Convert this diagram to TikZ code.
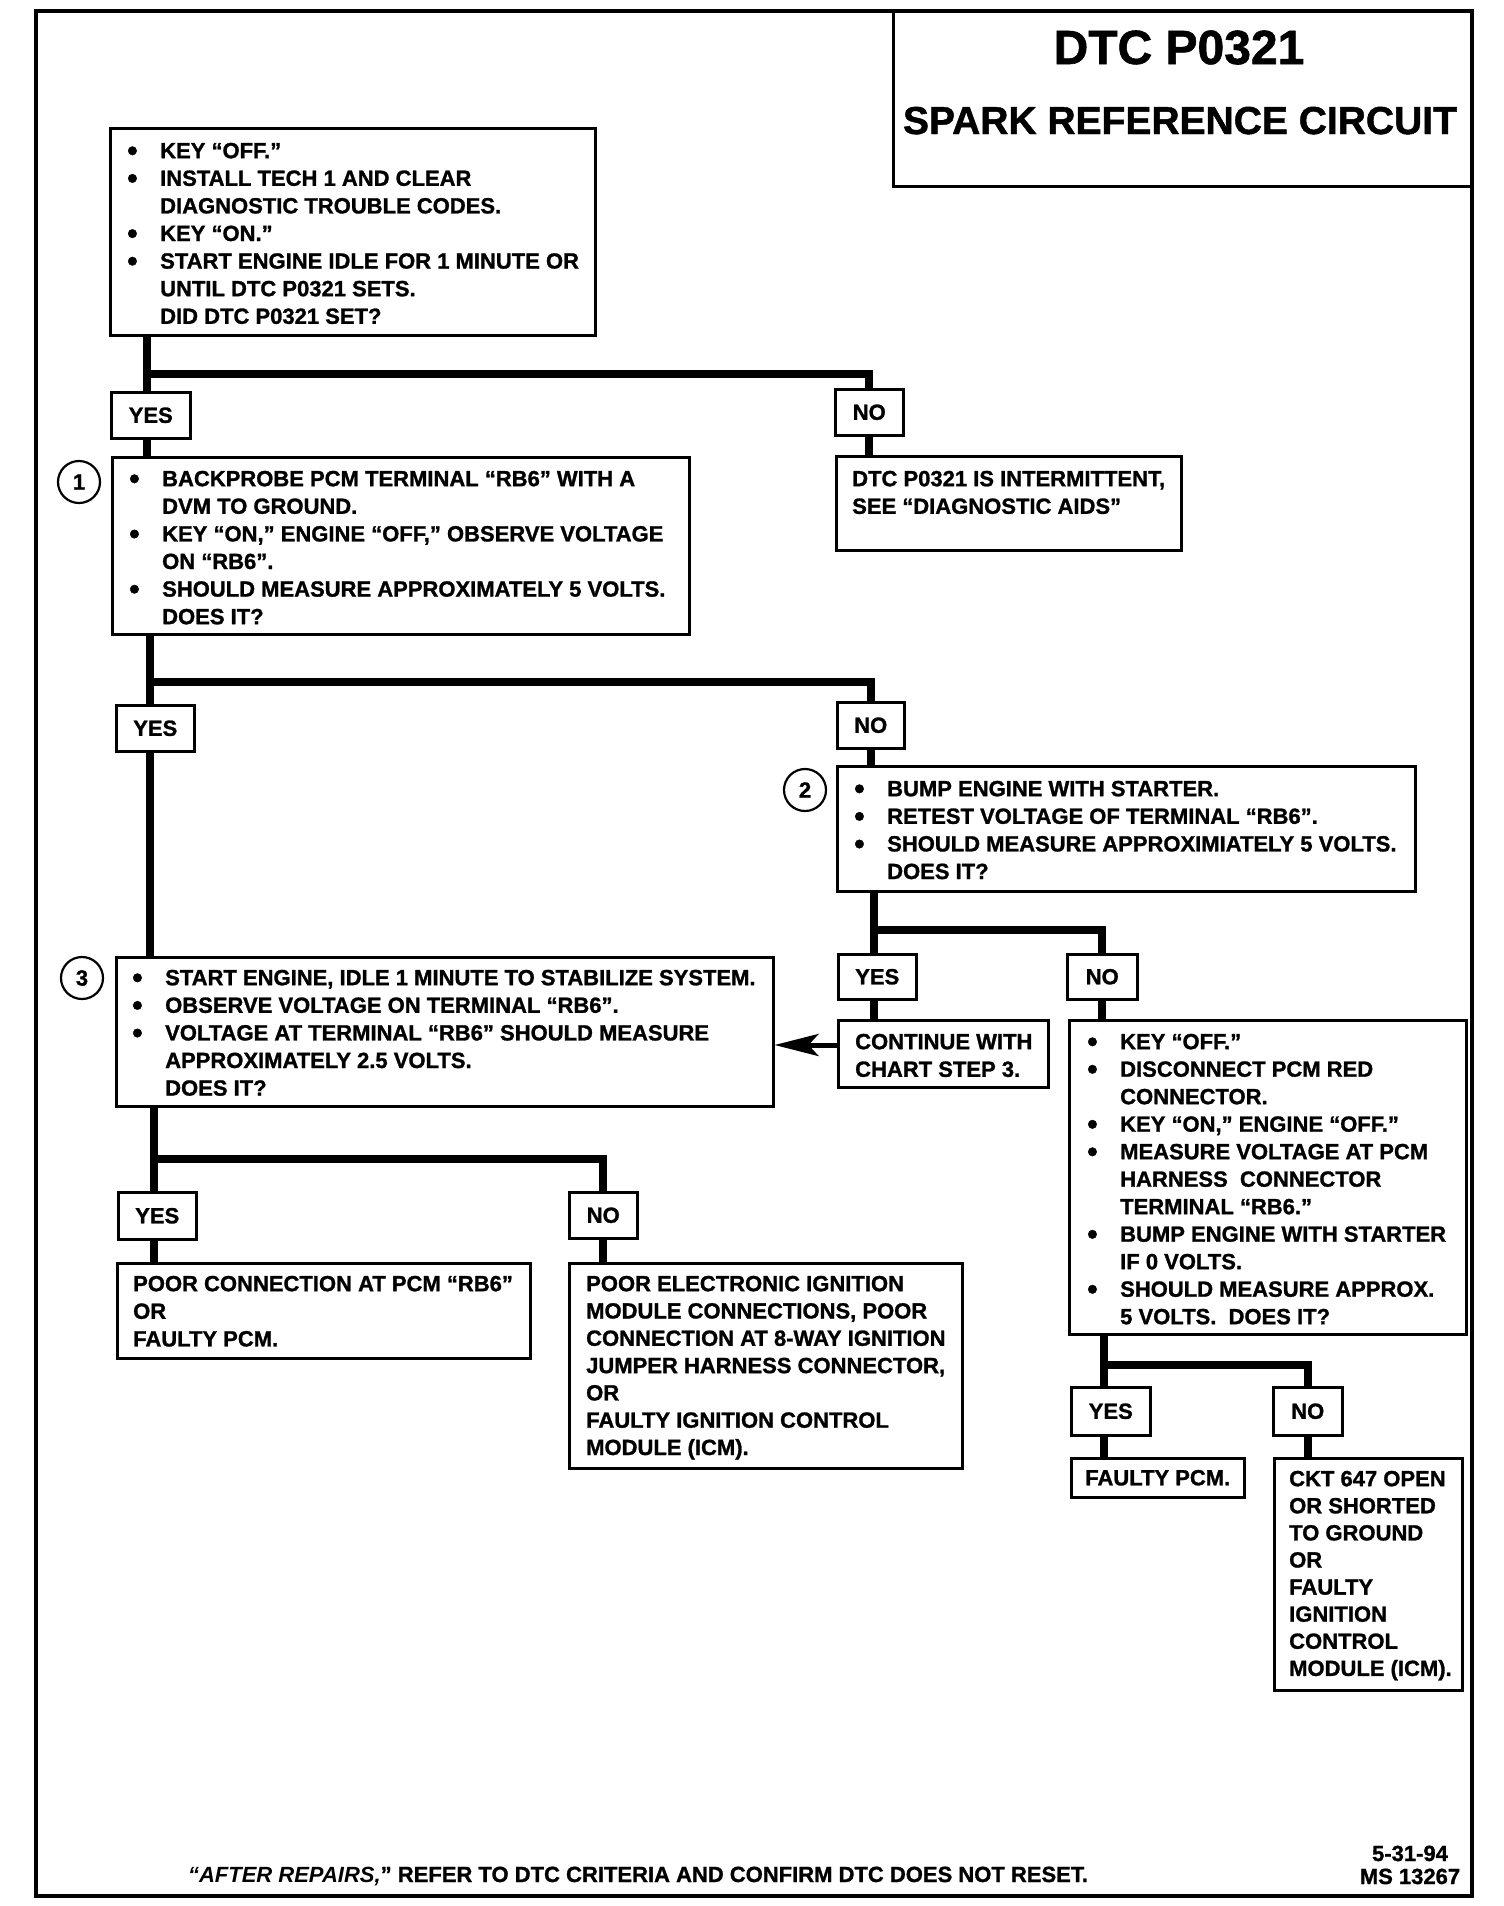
\documentclass[tikz,border=0pt]{standalone}
\usepackage{fontspec}
\setmainfont{Liberation Sans}[BoldFeatures={FakeBold=1.2}]
\usetikzlibrary{arrows.meta,calc}
\newcommand\bul{\makebox[33pt][l]{\raisebox{-2.5pt}{\fontsize{30}{30}\selectfont\textbullet}}}
\newcommand\ind{\hspace*{33pt}}
\newcommand\st{\rule{0pt}{17pt}}
\newcommand\bx[5]{\node[box,minimum width={#4-#2},minimum height={#5-#3}] (#1) at (#2,#3) {};}
\newcommand\lb[6]{\node[lbl,minimum width={#4-#2},minimum height={#5-#3}] (#1) at (#2,#3) {#6};}
\begin{document}
\begin{tikzpicture}[x=1pt,y=-1pt,
  box/.style={draw,line width=2.5pt,inner sep=0pt,anchor=north west},
  lbl/.style={draw,line width=2.5pt,inner sep=0pt,anchor=north west,font=\fontsize{22}{27}\selectfont\bfseries},
  txt/.style={inner sep=0pt,anchor=north west,align=left,font=\fontsize{22}{27.6}\selectfont\bfseries},
  conn/.style={line width=8pt,line join=miter,line cap=butt},
  num/.style={draw,circle,line width=2.2pt,minimum size=42pt,inner sep=0pt,font=\fontsize{22}{22}\selectfont\bfseries},
  small/.style={inner sep=0pt,anchor=base,font=\fontsize{22}{22}\selectfont\bfseries}
]
\useasboundingbox (0,0) rectangle (1504,1906);
\fill[white] (0,0) rectangle (1504,1906);

% frame and title
\node[draw,line width=3.5pt,inner sep=0pt,anchor=north west,minimum width=1436,minimum height=1885] (frame) at (34,9) {};
\bx{title}{892}{9}{1470}{185}
\node[small,font=\fontsize{48}{48}\selectfont\bfseries] (t1) at (1179,64) {DTC P0321};
\node[small,font=\fontsize{39}{39}\selectfont\bfseries] (t2) at (1180,134) {SPARK REFERENCE CIRCUIT};

% boxes
\bx{b1}{109}{127}{594}{334}
\node[txt] (b1t) at (127,141) {\st\bul KEY “OFF.”\\ \bul INSTALL TECH 1 AND CLEAR\\ \ind DIAGNOSTIC TROUBLE CODES.\\ \bul KEY “ON.”\\ \bul START ENGINE IDLE FOR 1 MINUTE OR\\ \ind UNTIL DTC P0321 SETS.\\ \ind DID DTC P0321 SET?};

\bx{b2}{111}{456}{688}{633}
\node[txt] (b2t) at (129,469) {\st\bul BACKPROBE PCM TERMINAL “RB6” WITH A\\ \ind DVM TO GROUND.\\ \bul KEY “ON,” ENGINE “OFF,” OBSERVE VOLTAGE\\ \ind ON “RB6”.\\ \bul SHOULD MEASURE APPROXIMATELY 5 VOLTS.\\ \ind DOES IT?};

\bx{b3}{835}{455}{1180}{549}
\node[txt] (b3t) at (852,469) {\st DTC P0321 IS INTERMITTENT,\\ SEE “DIAGNOSTIC AIDS”};

\bx{b4}{836}{765}{1414}{890}
\node[txt] (b4t) at (854,779) {\st\bul BUMP ENGINE WITH STARTER.\\ \bul RETEST VOLTAGE OF TERMINAL “RB6”.\\ \bul SHOULD MEASURE APPROXIMIATELY 5 VOLTS.\\ \ind DOES IT?};

\bx{b5}{115}{956}{772}{1105}
\node[txt] (b5t) at (132,968) {\st\bul START ENGINE, IDLE 1 MINUTE TO STABILIZE SYSTEM.\\ \bul OBSERVE VOLTAGE ON TERMINAL “RB6”.\\ \bul VOLTAGE AT TERMINAL “RB6” SHOULD MEASURE\\ \ind APPROXIMATELY 2.5 VOLTS.\\ \ind DOES IT?};

\bx{b6}{837}{1019}{1047}{1086}
\node[txt] (b6t) at (855,1032) {\st CONTINUE WITH\\ CHART STEP 3.};

\bx{b7}{1068}{1019}{1465}{1333}
\node[txt,font=\fontsize{22}{27.5}\selectfont\bfseries] (b7t) at (1087,1032) {\st\bul KEY “OFF.”\\ \bul DISCONNECT PCM RED\\ \ind CONNECTOR.\\ \bul KEY “ON,” ENGINE “OFF.”\\ \bul MEASURE VOLTAGE AT PCM\\ \ind HARNESS\ \ CONNECTOR\\ \ind TERMINAL “RB6.”\\ \bul BUMP ENGINE WITH STARTER\\ \ind IF 0 VOLTS.\\ \bul SHOULD MEASURE APPROX.\\ \ind 5 VOLTS.\ \ DOES IT?};

\bx{b8}{116}{1262}{529}{1357}
\node[txt] (b8t) at (133,1274) {\st POOR CONNECTION AT PCM “RB6”\\ OR\\ FAULTY PCM.};

\bx{b9}{568}{1262}{961}{1467}
\node[txt,font=\fontsize{22}{27.3}\selectfont\bfseries] (b9t) at (586,1274) {\st POOR ELECTRONIC IGNITION\\ MODULE CONNECTIONS, POOR\\ CONNECTION AT 8-WAY IGNITION\\ JUMPER HARNESS CONNECTOR,\\ OR\\ FAULTY IGNITION CONTROL\\ MODULE (ICM).};

\lb{b10}{1070}{1457}{1243}{1496}{FAULTY PCM.}

\bx{b11}{1273}{1457}{1461}{1689}
\node[txt,font=\fontsize{22}{27.1}\selectfont\bfseries] (b11t) at (1289,1469) {\st CKT 647 OPEN\\ OR SHORTED\\ TO GROUND\\ OR\\ FAULTY\\ IGNITION\\ CONTROL\\ MODULE (ICM).};

% yes / no labels
\lb{yes1}{110}{391}{189}{437}{YES}
\lb{no1}{834}{388}{902}{434}{NO}
\lb{yes2}{115}{704}{193}{750}{YES}
\lb{no2}{836}{701}{903}{747}{NO}
\lb{yes3}{837}{953}{915}{998}{YES}
\lb{no3}{1066}{953}{1136}{998}{NO}
\lb{yes4}{117}{1191}{195}{1238}{YES}
\lb{no4}{568}{1191}{636}{1237}{NO}
\lb{yes5}{1070}{1386}{1149}{1434}{YES}
\lb{no5}{1272}{1386}{1341}{1434}{NO}

% step numbers
\node[num] (n1) at (79,482) {1};
\node[num] (n2) at (805,790) {2};
\node[num] (n3) at (82,978) {3};

% connectors
\coordinate (j1) at (147,374);
\draw[conn] (b1.south -| j1) -- (yes1.north -| j1);
\draw[conn] (j1) -| (no1.north);
\draw[conn] (yes1.south -| j1) -- (b2.north -| j1);
\draw[conn] (no1.south) -- (b3.north -| no1.south);

\coordinate (j2) at (150,682);
\draw[conn] (b2.south -| j2) -- (yes2.north -| j2);
\draw[conn] (j2) -| (no2.north);
\draw[conn] (yes2.south -| j2) -- (b5.north -| j2);
\draw[conn] (no2.south) -- (b4.north -| no2.south);

\coordinate (j3) at (874,930);
\draw[conn] (b4.south -| j3) -- (yes3.north -| j3);
\draw[conn] (j3) -| (no3.north);
\draw[conn] (yes3.south -| j3) -- (b6.north -| j3);
\draw[conn] (no3.south) -- (b7.north -| no3.south);

\coordinate (j4) at (154,1159);
\draw[conn] (b5.south -| j4) -- (yes4.north -| j4);
\draw[conn] (j4) -| (no4.north);
\draw[conn] (yes4.south -| j4) -- (b8.north -| j4);
\draw[conn] (no4.south) -- (b9.north -| no4.south);

\coordinate (j5) at (1104,1365);
\draw[conn] (b7.south -| j5) -- (yes5.north -| j5);
\draw[conn] (j5) -| (no5.north);
\draw[conn] (yes5.south -| j5) -- (b10.north -| j5);
\draw[conn] (no5.south) -- (b11.north -| no5.south);

\coordinate (ar) at (800,1045);
\draw[line width=5pt,-{Stealth[length=44pt,width=22pt,inset=10pt]}] (b6.west |- ar) -- (b5.east |- ar);

% footer
\node[small] (foot) at (638,1882) {\textit{“AFTER REPAIRS,}” REFER TO DTC CRITERIA AND CONFIRM DTC DOES NOT RESET.};
\node[small] (date) at (1410,1861) {5-31-94};
\node[small] (ms) at (1410,1884) {MS 13267};
\end{tikzpicture}
\end{document}
